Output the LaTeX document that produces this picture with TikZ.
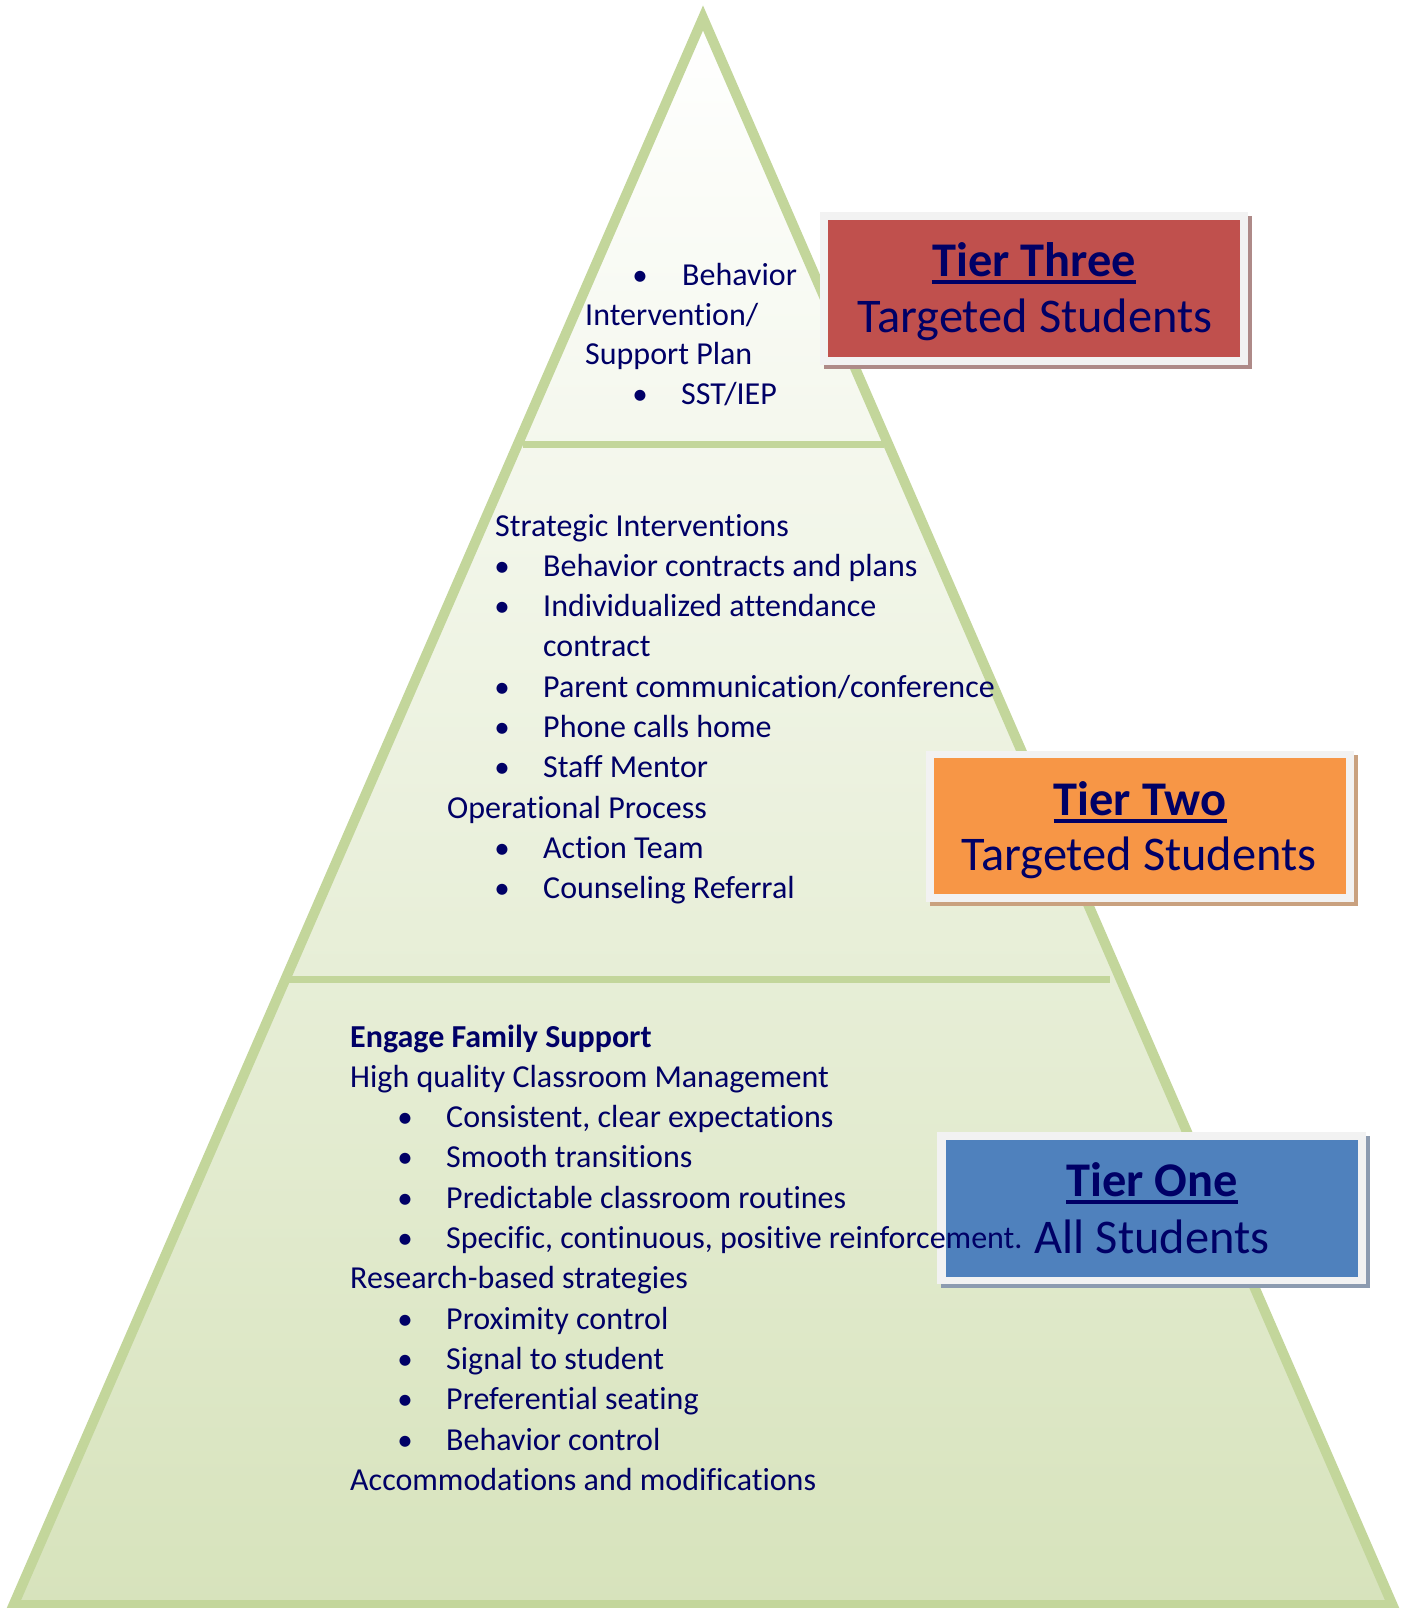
\documentclass[tikz,border=0pt]{standalone}
\usepackage{fontspec}
\setmainfont{Carlito}[Ligatures=NoCommon]
\definecolor{navy}{HTML}{000066}
\definecolor{pyrline}{HTML}{C3D69B}
\definecolor{pyrbot}{HTML}{D7E3BC}
\definecolor{framec}{HTML}{F2F2F2}
\definecolor{redc}{HTML}{C0504D}
\definecolor{redsh}{HTML}{AE8A88}
\definecolor{orc}{HTML}{F79646}
\definecolor{orsh}{HTML}{C9A17F}
\definecolor{bluec}{HTML}{4F81BD}
\definecolor{bluesh}{HTML}{8C9BB0}
\begin{document}
\begin{tikzpicture}[x=1pt,y=-1pt,
  txt/.style={anchor=base west, inner sep=0pt, font=\fontsize{32}{38}\selectfont, text=navy},
  bul/.style={anchor=base, inner sep=0pt, font=\fontsize{31}{38}\selectfont, text=navy},
  bigt/.style={anchor=base, inner sep=0pt, font=\fontsize{48.4}{56}\selectfont, text=navy},
  bigb/.style={anchor=base, inner sep=0pt, font=\fontsize{48.4}{56}\selectfont\bfseries, text=navy},
  uline/.style={draw=navy, line width=4pt}]
\useasboundingbox (0,0) rectangle (1410,1608);
% pyramid
\coordinate (apex) at (703,18);
\coordinate (bl) at (13.5,1605);
\coordinate (br) at (1392.5,1605);
\shade[top color=white, bottom color=pyrbot] (apex) -- (bl) -- (br) -- cycle;
\draw[pyrline, line width=10pt, line join=miter] (apex) -- (bl) -- (br) -- cycle;
\coordinate (d1a) at (523,444); \coordinate (d1b) at (884,444);
\coordinate (d2a) at (289,979); \coordinate (d2b) at (1110,979);
\draw[pyrline, line width=7pt] (d1a) -- (d1b);
\draw[pyrline, line width=7pt] (d2a) -- (d2b);
% tier boxes
\fill[redsh] (824,216) rectangle (1252,369);
\fill[framec] (820,212) rectangle (1248,365);
\fill[redc] (828,220) rectangle (1240,357);
\fill[orsh] (930,755) rectangle (1358,906);
\fill[framec] (926,751) rectangle (1354,902);
\fill[orc] (934,758) rectangle (1346,894);
\fill[bluesh] (941,1136) rectangle (1370,1288);
\fill[framec] (937,1132) rectangle (1366,1284);
\fill[bluec] (946,1140) rectangle (1358,1277);
% box labels
\node[bigb] (t3h) at (1034,276) {Tier Three};
\draw[uline] ([yshift=-6pt]t3h.base west) -- ([yshift=-6pt]t3h.base east);
\node[bigt] (t3s) at (1035,332) {Targeted Students};
\node[bigb] (t2h) at (1140,815) {Tier Two};
\draw[uline] ([yshift=-6pt]t2h.base west) -- ([yshift=-6pt]t2h.base east);
\node[bigt] (t2s) at (1139,870) {Targeted Students};
\node[bigb] (t1h) at (1152,1196) {Tier One};
\draw[uline] ([yshift=-6pt]t1h.base west) -- ([yshift=-6pt]t1h.base east);
\node[bigt] (t1s) at (1152,1253) {All Students};
% tier three text
\node[bul] (b3a) at (640,285) {•};
\node[txt] (l3a) at (682,285) {Behavior};
\node[txt] (l3b) at (585,325) {Intervention/};
\node[txt] (l3c) at (585,364) {Support Plan};
\node[bul] (b3d) at (640,404) {•};
\node[txt] (l3d) at (681,404) {SST/IEP};
% tier two text
\node[txt] (l2h) at (495,536) {Strategic Interventions};
\foreach \y/\t [count=\i] in {576.3/Behavior contracts and plans, 616.6/Individualized attendance, 697.2/Parent communication\slash conference, 737.5/Phone calls home, 777.8/Staff Mentor, 858.4/Action Team, 898.7/Counseling Referral}{
  \node[bul] (b2\i) at (502,\y) {•};
  \node[txt] (l2\i) at (543,\y) {\t};
}
\node[txt] (l2c) at (543,656.9) {contract};
\node[txt] (l2o) at (447,818.1) {Operational Process};
% tier one text
\node[txt, font=\fontsize{32}{38}\selectfont\bfseries] (l1e) at (350,1047) {Engage Family Support};
\node[txt] (l1h) at (350,1087.3) {High quality Classroom Management};
\foreach \y/\t [count=\i] in {1127.6/{Consistent, clear expectations}, 1167.9/Smooth transitions, 1208.2/Predictable classroom routines, 1248.5/{Specific, continuous, positive reinforcement.}, 1329.1/Proximity control, 1369.4/Signal to student, 1409.7/Preferential seating, 1450/Behavior control}{
  \node[bul] (b1\i) at (405,\y) {•};
  \node[txt] (l1\i) at (446,\y) {\t};
}
\node[txt] (l1r) at (350,1288.8) {Research-based strategies};
\node[txt] (l1a) at (350,1490.3) {Accommodations and modifications};
\end{tikzpicture}
\end{document}
